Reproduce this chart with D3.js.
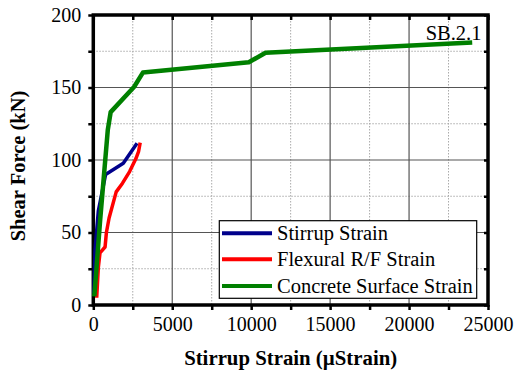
<!DOCTYPE html>
<html><head><meta charset="utf-8">
<script src="https://cdn.jsdelivr.net/npm/d3@7"></script>
<style>body{margin:0;background:#fff}svg{display:block}</style>
</head><body><svg id="c" width="517" height="372"></svg>
<script>
// Data
const xTicks = [0, 5000, 10000, 15000, 20000, 25000];
const yTicks = [0, 50, 100, 150, 200];
const seriesNames = ["Stirrup Strain", "Flexural R/F Strain", "Concrete Surface Strain"];
const seriesColors = ["#00008b", "#ff0000", "#008000"];
const stirrupX = [30, 110, 320, 560, 780, 1900, 2770];
const stirrupY = [8, 38, 65, 78, 90, 97.8, 111.6];
const flexX = [215, 320, 425, 745, 830, 1000, 1450, 1850, 2300, 2700, 2870, 2970];
const flexY = [5, 26, 36, 40, 50, 60, 78, 84, 92, 101, 106, 112];
const concX = [64, 430, 920, 1100, 2590, 3140, 9850, 10910, 24000];
const concY = [6, 58, 121, 133, 150.5, 160.3, 167.4, 174, 181];
const specimen = "SB.2.1";

const FONT = "'Times New Roman', Times, 'Liberation Serif', 'DejaVu Serif', serif";
const svg = d3.select("#c").attr("font-family", FONT);
const L = 93.3, R = 488, T = 15, B = 305;
const x = d3.scaleLinear().domain([0, 25000]).range([L, R]);
const y = d3.scaleLinear().domain([0, 200]).range([B, T]);

// minor grid (dotted)
const minorX = d3.range(2500, 25000, 5000);
const minorY = d3.range(25, 200, 50);
svg.append("g").selectAll("line").data(minorX).join("line")
  .attr("x1", d => x(d)).attr("x2", d => x(d)).attr("y1", T).attr("y2", B)
  .attr("stroke", "#aaa").attr("stroke-width", 1).attr("stroke-dasharray", "1.5,1.5");
svg.append("g").selectAll("line").data(minorY).join("line")
  .attr("y1", d => y(d)).attr("y2", d => y(d)).attr("x1", L).attr("x2", R)
  .attr("stroke", "#aaa").attr("stroke-width", 1).attr("stroke-dasharray", "1.5,1.5");
// major grid
svg.append("g").selectAll("line").data(xTicks.slice(1, -1)).join("line")
  .attr("x1", d => x(d)).attr("x2", d => x(d)).attr("y1", T).attr("y2", B)
  .attr("stroke", "#555").attr("stroke-width", 1.2);
svg.append("g").selectAll("line").data(yTicks.slice(1, -1)).join("line")
  .attr("y1", d => y(d)).attr("y2", d => y(d)).attr("x1", L).attr("x2", R)
  .attr("stroke", "#555").attr("stroke-width", 1.2);

// axes
const allX = d3.range(0, 25001, 2500), allY = d3.range(0, 201, 25);
const bx = svg.append("g").attr("transform", `translate(0,${B})`)
  .call(d3.axisBottom(x).tickValues(allX).tickSize(5).tickFormat(d => xTicks.includes(d) ? d : ""));
const ly = svg.append("g").attr("transform", `translate(${L},0)`)
  .call(d3.axisLeft(y).tickValues(allY).tickSize(5).tickFormat(d => yTicks.includes(d) ? d : ""));
const tx = svg.append("g").attr("transform", `translate(0,${T})`)
  .call(d3.axisBottom(x).tickValues(allX).tickSize(5).tickFormat(""));
const ry = svg.append("g").attr("transform", `translate(${R},0)`)
  .call(d3.axisLeft(y).tickValues(allY).tickSize(4).tickFormat(""));
[bx, ly, tx, ry].forEach(g => {
  g.attr("font-family", FONT).attr("font-size", 20);
  g.select(".domain").remove();
  g.selectAll(".tick line").attr("stroke", "#000").attr("stroke-width", 2.5);
  g.selectAll("text").attr("fill", "#000");
});
bx.selectAll("text").attr("dy", "0.9em");
ly.selectAll("text").attr("dx", "-0.2em");

// frame
svg.append("rect").attr("x", L).attr("y", T).attr("width", R - L).attr("height", B - T)
  .attr("fill", "none").attr("stroke", "#000").attr("stroke-width", 3.5);

// lines
const series = [
  stirrupX.map((v, i) => [v, stirrupY[i]]),
  flexX.map((v, i) => [v, flexY[i]]),
  concX.map((v, i) => [v, concY[i]])
];
const line = d3.line().x(d => x(d[0])).y(d => y(d[1]));
series.forEach((s, i) => {
  svg.append("path").datum(s).attr("d", line).attr("fill", "none")
    .attr("stroke", seriesColors[i]).attr("stroke-width", i === 2 ? 4.5 : 3.5)
    .attr("stroke-linejoin", "round");
});

// specimen label
svg.append("text").attr("x", 481.5).attr("y", 40).attr("text-anchor", "end")
  .attr("font-size", 20.5).text(specimen);

// legend
const lg = svg.append("g");
lg.append("rect").attr("x", 219.3).attr("y", 220.7).attr("width", 257.4).attr("height", 77.6)
  .attr("fill", "#fff").attr("stroke", "#000").attr("stroke-width", 1.2);
const rows = [233.3, 259.3, 286];
seriesNames.forEach((n, i) => {
  lg.append("line").attr("x1", 222).attr("x2", 272).attr("y1", rows[i]).attr("y2", rows[i])
    .attr("stroke", seriesColors[i]).attr("stroke-width", 4);
  lg.append("text").attr("x", 277).attr("y", rows[i]).attr("dy", "0.35em")
    .attr("font-size", 20.5).text(n);
});

// axis titles
svg.append("text").attr("x", (L + R) / 2).attr("y", 365).attr("text-anchor", "middle")
  .attr("font-size", 20.8).attr("font-weight", "bold").text("Stirrup Strain (\u00b5Strain)");
svg.append("text").attr("transform", "translate(25,166) rotate(-90)").attr("text-anchor", "middle")
  .attr("font-size", 20.5).attr("font-weight", "bold").text("Shear Force (kN)");
</script></body></html>
